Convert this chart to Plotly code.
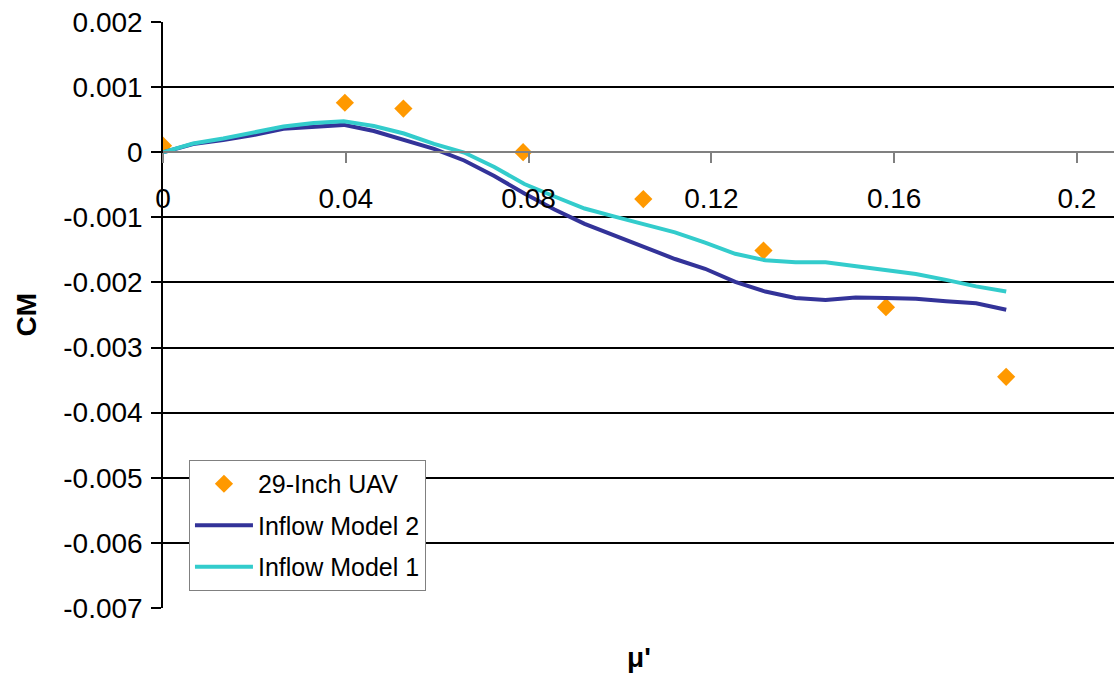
import plotly.graph_objects as go

# Measured rotor pitching-moment coefficient (29-inch UAV)
uav_mu = [0.0, 0.0398, 0.0526, 0.0788, 0.1051, 0.1314, 0.1582, 0.1845]
uav_cm = [0.0001, 0.00076, 0.00067, 0.0, -0.00072, -0.00151, -0.00238, -0.00345]

# Advance ratio stations of the inflow-model predictions
model_mu = [0.0, 0.00659, 0.01318, 0.01977, 0.02636, 0.03295, 0.03954, 0.04613,
            0.05272, 0.05931, 0.0659, 0.07249, 0.07908, 0.08567, 0.09226,
            0.09885, 0.10544, 0.11203, 0.11862, 0.12521, 0.1318, 0.13839,
            0.14498, 0.15157, 0.15816, 0.16475, 0.17134, 0.17793, 0.18452]

model2_cm = [0.0, 0.000126, 0.000187, 0.000264, 0.00036, 0.000395, 0.00042,
             0.000326, 0.000187, 0.000052, -0.000127, -0.000366, -0.000634,
             -0.00088, -0.0011, -0.00128, -0.00146, -0.00164, -0.00179,
             -0.00199, -0.00214, -0.00224, -0.00227, -0.00223, -0.00224,
             -0.00225, -0.00229, -0.00232, -0.00242]

model1_cm = [0.0, 0.000134, 0.00021, 0.000295, 0.000395, 0.00045, 0.000476,
             0.000402, 0.000287, 0.000129, -0.000005, -0.000227, -0.000488,
             -0.00068, -0.000865, -0.00099, -0.00111, -0.00123, -0.00139,
             -0.00156, -0.00166, -0.00169, -0.00169, -0.00175, -0.0018,
             -0.00187, -0.00196, -0.00206, -0.00214]

x_ticks = [0, 0.04, 0.08, 0.12, 0.16, 0.2]
x_tick_text = ["0", "0.04", "0.08", "0.12", "0.16", "0.2"]
y_ticks = [0.002, 0.001, 0, -0.001, -0.002, -0.003, -0.004, -0.005, -0.006, -0.007]
y_tick_text = ["0.002", "0.001", "0", "-0.001", "-0.002", "-0.003", "-0.004",
               "-0.005", "-0.006", "-0.007"]

FONT = "Liberation Sans, Arial, sans-serif"

fig = go.Figure()
fig.add_trace(go.Scatter(
    x=uav_mu, y=uav_cm, mode="markers", name="29-Inch UAV",
    marker=dict(symbol="diamond", size=14, color="#FF9900"),
    legendgroup="a"))
fig.add_trace(go.Scatter(
    x=model_mu, y=model2_cm, mode="lines", name="Inflow Model 2",
    line=dict(color="#333399", width=4), legendgroup="b"))
fig.add_trace(go.Scatter(
    x=model_mu, y=model1_cm, mode="lines", name="Inflow Model 1",
    line=dict(color="#33CCCC", width=4), legendgroup="c"))

y_min, y_max = -0.007, 0.002
zero_frac = (0 - y_min) / (y_max - y_min)

fig.update_layout(
    width=1114, height=679,
    margin=dict(l=163, r=0, t=22, b=71),
    paper_bgcolor="white", plot_bgcolor="white",
    font=dict(family=FONT, size=28, color="black"),
    showlegend=True,
    legend=dict(
        x=0.0273, y=0.2526, xanchor="left", yanchor="top",
        bgcolor="white", bordercolor="#808080", borderwidth=1,
        font=dict(family=FONT, size=25, color="black"),
        tracegroupgap=6, traceorder="grouped", itemwidth=58),
    xaxis=dict(
        range=[0, 0.2081], anchor="free", position=zero_frac,
        tickvals=x_ticks, ticktext=x_tick_text,
        tickfont=dict(family=FONT, size=28, color="black"),
        ticks="outside", ticklen=10, tickwidth=1.5, tickcolor="#808080",
        showline=True, linecolor="#808080", linewidth=1.5,
        showgrid=False, zeroline=False, ticklabelstandoff=11),
    yaxis=dict(
        range=[y_min, y_max], tickvals=y_ticks, ticktext=y_tick_text,
        tickfont=dict(family=FONT, size=28, color="black"),
        ticks="outside", ticklen=10, tickwidth=1.5, tickcolor="black",
        showline=True, linecolor="black", linewidth=1.5,
        showgrid=True, gridcolor="black", gridwidth=1.5,
        zeroline=True, zerolinecolor="#808080", zerolinewidth=1.5,
        ticklabelstandoff=3),
    annotations=[
        dict(text="<b>μ'</b>", xref="paper", yref="paper", x=0.5, y=-0.085,
             xanchor="center", yanchor="middle", showarrow=False,
             font=dict(family=FONT, size=28)),
        dict(text="<b>CM</b>", xref="paper", yref="paper", x=-0.1445, y=0.5,
             xanchor="center", yanchor="middle", textangle=-90,
             showarrow=False, font=dict(family=FONT, size=28)),
    ],
)

fig.write_html("out.html")
